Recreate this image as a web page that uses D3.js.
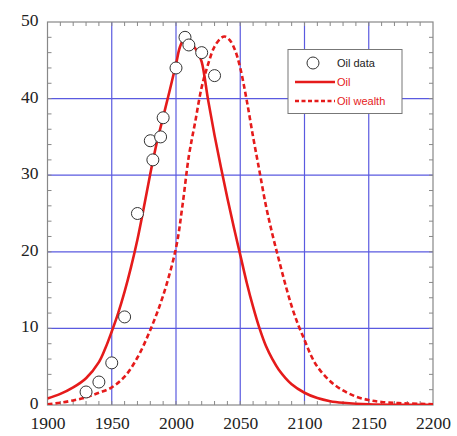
<!DOCTYPE html>
<html><head><meta charset="utf-8">
<script src="https://cdn.jsdelivr.net/npm/d3@7"></script>
<style>body{margin:0;background:#fff}svg{display:block}</style>
</head><body>
<script>
const dataYears = [1930,1940,1950,1960,1970,1980,1982,1988,1990,2000,2007,2010,2020,2030];
const dataValues = [1.7,3,5.5,11.5,25,34.5,32,35,37.5,44,48,47,46,43];

const oilYears = [1900,1910,1920,1930,1940,1945,1950,1955,1960,1965,1970,1975,1980,1985,1990,1995,2000,2003,2006,2009,2013,2017,2020,2025,2030,2035,2040,2045,2050,2055,2060,2065,2070,2075,2080,2090,2100,2110,2120,2130,2150,2200];
const oilValues = [0.85,1.45,2.3,3.5,5.6,7.4,9.6,12,14.8,18,21.6,25.8,30.2,34.2,37.6,41,44.5,46.7,47.7,47.6,47,46,44.8,39.8,35.2,31,27,23.2,19.6,16,12.8,10,7.7,6,4.6,2.7,1.6,0.9,0.5,0.3,0.1,0.02];

const wealthYears = [1900,1910,1920,1930,1940,1950,1960,1970,1980,1990,2000,2005,2010,2015,2020,2025,2030,2035,2038,2042,2046,2050,2055,2060,2065,2070,2075,2080,2085,2090,2095,2100,2105,2110,2120,2130,2140,2150,2160,2180,2200];
const wealthValues = [0.1,0.3,0.6,1.0,1.6,2.3,3.7,6.2,9.8,14.3,20.5,26,32.5,37,41.5,44.5,46.8,47.9,48.1,47.6,46.3,44,39.8,35,30.5,26,22.3,19,15.8,12.9,10.5,8.5,6.5,5,3.1,1.9,1.1,0.65,0.4,0.2,0.1];

const xTicks = [1900,1950,2000,2050,2100,2150,2200];
const yTicks = [0,10,20,30,40,50];
const legendLabels = ["Oil data","Oil","Oil wealth"];

const W = 457, H = 436;
const L = 47.5, R = 433, T = 22, B = 405;
const svg = d3.select("body").append("svg").attr("width", W).attr("height", H);
const x = d3.scaleLinear().domain([1900,2200]).range([L,R]);
const y = d3.scaleLinear().domain([0,50]).range([B,T]);

// grid
svg.append("g").selectAll("line").data(xTicks.slice(1,-1)).join("line")
  .attr("x1", d=>x(d)).attr("x2", d=>x(d)).attr("y1", T).attr("y2", B)
  .attr("stroke", "#5a5ae0").attr("stroke-width", 1.2);
svg.append("g").selectAll("line").data(yTicks.slice(1,-1)).join("line")
  .attr("y1", d=>y(d)).attr("y2", d=>y(d)).attr("x1", L).attr("x2", R)
  .attr("stroke", "#5a5ae0").attr("stroke-width", 1.2);

// minor ticks on all sides
const tickCol = "#888";
const xMinor = d3.range(1910, 2200, 10);
const yMinor = d3.range(2, 50, 2);
const tg = svg.append("g").attr("stroke", tickCol).attr("stroke-width", 1);
tg.selectAll(".xb").data(xMinor).join("line").attr("x1", d=>x(d)).attr("x2", d=>x(d)).attr("y1", B).attr("y2", B-4);
tg.selectAll(".xt").data(xMinor).join("line").attr("x1", d=>x(d)).attr("x2", d=>x(d)).attr("y1", T).attr("y2", T+4);
tg.selectAll(".yl").data(yMinor).join("line").attr("y1", d=>y(d)).attr("y2", d=>y(d)).attr("x1", L).attr("x2", L+4);
tg.selectAll(".yr").data(yMinor).join("line").attr("y1", d=>y(d)).attr("y2", d=>y(d)).attr("x1", R).attr("x2", R-4);

// frame
svg.append("rect").attr("x", L).attr("y", T).attr("width", R-L).attr("height", B-T)
  .attr("fill", "none").attr("stroke", "#888").attr("stroke-width", 1.2);

// axes labels
const serif = "'Liberation Serif','Times New Roman',serif";
const xAxis = d3.axisBottom(x).tickValues(xTicks).tickSize(0).tickPadding(0).tickFormat(d3.format("d"));
const gx = svg.append("g").attr("transform", `translate(0,${B})`).call(xAxis);
gx.select(".domain").remove();
gx.selectAll("text").attr("y", 23.5).attr("dy", null)
  .attr("font-family", serif).attr("font-size", 17.5).attr("fill", "#222");
const yAxis = d3.axisLeft(y).tickValues(yTicks).tickSize(0).tickPadding(9);
const gy = svg.append("g").attr("transform", `translate(${L},0)`).call(yAxis);
gy.select(".domain").remove();
gy.selectAll("text").attr("dy", "0.2em")
  .attr("font-family", serif).attr("font-size", 17.5).attr("fill", "#222");

// clip
svg.append("clipPath").attr("id","clip").append("rect").attr("x", L).attr("y", T-4).attr("width", R-L).attr("height", B-T+4);

const red = "#e51b1b";
const line = d3.line().x(d=>x(d[0])).y(d=>y(Math.max(0,d[1]))).curve(d3.curveCatmullRom.alpha(0.5));
svg.append("path").datum(wealthYears.map((d,i)=>[d,wealthValues[i]])).attr("d", line)
  .attr("fill","none").attr("stroke", red).attr("stroke-width", 2.6).attr("stroke-dasharray","5,3")
  .attr("clip-path","url(#clip)");
svg.append("path").datum(oilYears.map((d,i)=>[d,oilValues[i]])).attr("d", line)
  .attr("fill","none").attr("stroke", red).attr("stroke-width", 2.6)
  .attr("clip-path","url(#clip)");

svg.append("g").selectAll("circle").data(dataYears.map((d,i)=>[d,dataValues[i]])).join("circle")
  .attr("cx", d=>x(d[0])).attr("cy", d=>y(d[1])).attr("r", 6)
  .attr("fill","#fff").attr("stroke","#333").attr("stroke-width",1);

// legend
const lg = svg.append("g");
lg.append("rect").attr("x", 288).attr("y", 49.5).attr("width", 114).attr("height", 64)
  .attr("fill","#fff").attr("stroke","#777").attr("stroke-width",1);
lg.append("circle").attr("cx", 313).attr("cy", 63).attr("r", 6).attr("fill","#fff").attr("stroke","#333");
lg.append("line").attr("x1",295).attr("x2",335).attr("y1",82).attr("y2",82).attr("stroke",red).attr("stroke-width",2.4);
lg.append("line").attr("x1",295).attr("x2",335).attr("y1",101).attr("y2",101).attr("stroke",red).attr("stroke-width",2.4).attr("stroke-dasharray","4,2.5");
const ly = [63,82,101], lc = ["#222", red, red];
lg.selectAll("text").data(legendLabels).join("text")
  .attr("x", 337).attr("y", (d,i)=>ly[i]).attr("dy","0.35em")
  .attr("font-family","'Liberation Sans',Arial,sans-serif").attr("font-size", 11)
  .attr("fill", (d,i)=>lc[i]).text(d=>d);
</script>
</body></html>
